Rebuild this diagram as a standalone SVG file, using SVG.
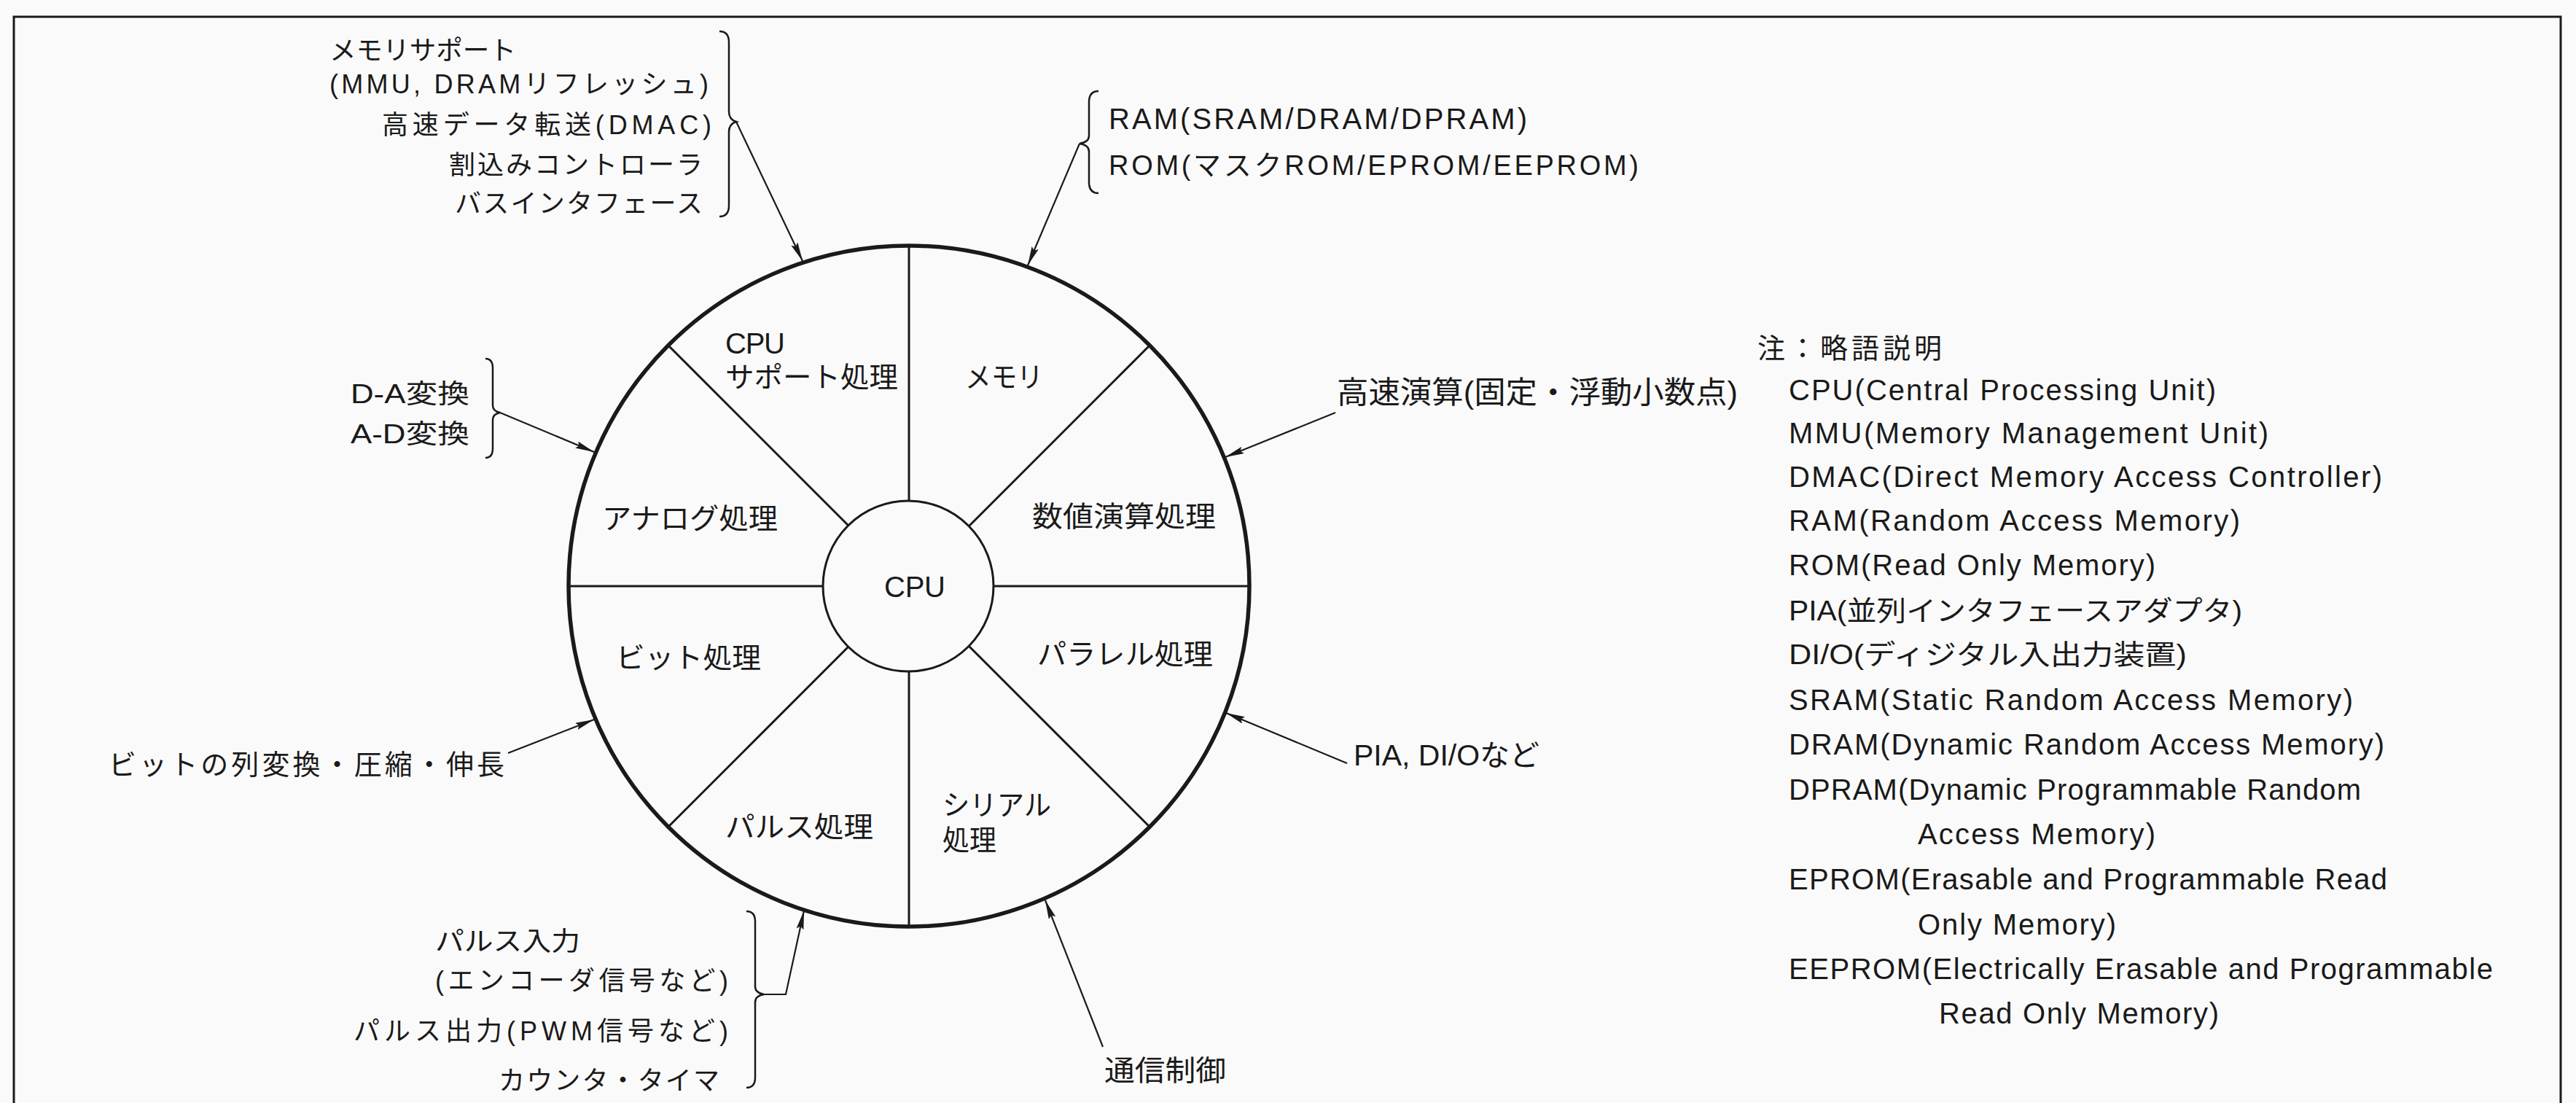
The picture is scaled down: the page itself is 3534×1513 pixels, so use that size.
<svg xmlns="http://www.w3.org/2000/svg" width="3534" height="1513" viewBox="0 0 3534 1513">
<style>
text{font-family:"Liberation Sans Narrow","Liberation Sans","Noto Sans CJK JP",sans-serif;fill:#1a1a1a}
.s36{font-size:36px}.s38{font-size:38px}.s39{font-size:39px}.s40{font-size:40px}.s42{font-size:42px}
.ln{fill:none;stroke:#1a1a1a;stroke-width:3}
.thick{fill:none;stroke:#1a1a1a;stroke-width:5.5}
.arr{fill:none;stroke:#1a1a1a;stroke-width:2.2}
.br{fill:none;stroke:#1a1a1a;stroke-width:2.5}
</style>
<defs>
<marker id="ah" markerUnits="userSpaceOnUse" markerWidth="30" markerHeight="12" refX="26" refY="5" orient="auto">
<path d="M0,0 L26,5 L0,10 L4,5 z" fill="#1a1a1a"/>
</marker>
</defs>
<rect width="3534" height="1513" fill="#fafafa"/>
<path class="ln" d="M19,1513 L19,23 L3513,23 L3513,1513"/>

<g id="wheel">
<circle class="thick" cx="1247" cy="804" r="467"/>
<circle class="ln" cx="1246" cy="804" r="117" stroke-width="4"/>
<path class="ln" d="M780,804 L1129,804 M1363,804 L1714,804 M1247,337 L1247,687 M1247,921 L1247,1271 M917,474 L1164,721 M1577,474 L1330,721 M917,1134 L1164,887 M1577,1134 L1330,887"/>
</g>

<g id="seg-cpu-support"><text class="s40" x="995" y="485" textLength="82" lengthAdjust="spacing">CPU</text><text class="s39" x="995" y="531" textLength="237" lengthAdjust="spacingAndGlyphs">サポート処理</text></g>
<g id="seg-memory"><text class="s39" x="1324" y="531" textLength="107" lengthAdjust="spacingAndGlyphs">メモリ</text></g>
<g id="seg-analog"><text class="s39" x="826" y="725" textLength="241" lengthAdjust="spacingAndGlyphs">アナログ処理</text></g>
<g id="seg-numeric"><text class="s39" x="1416" y="722" textLength="252" lengthAdjust="spacingAndGlyphs">数値演算処理</text></g>
<g id="seg-cpu"><text class="s40" x="1213" y="819" textLength="84" lengthAdjust="spacing">CPU</text></g>
<g id="seg-bit"><text class="s39" x="845" y="916" textLength="199" lengthAdjust="spacingAndGlyphs">ビット処理</text></g>
<g id="seg-parallel"><text class="s39" x="1423" y="911" textLength="241" lengthAdjust="spacingAndGlyphs">パラレル処理</text></g>
<g id="seg-serial"><text class="s39" x="1293" y="1118" textLength="149" lengthAdjust="spacingAndGlyphs">シリアル</text><text class="s39" x="1293" y="1166" textLength="74" lengthAdjust="spacingAndGlyphs">処理</text></g>
<g id="seg-pulse"><text class="s39" x="995" y="1148" textLength="203" lengthAdjust="spacingAndGlyphs">パルス処理</text></g>

<g id="lbl-cpu-support">
<text class="s36" x="452" y="82" textLength="256" lengthAdjust="spacingAndGlyphs">メモリサポート</text>
<text class="s36" x="452" y="128" textLength="520" lengthAdjust="spacing">(MMU, DRAMリフレッシュ)</text>
<text class="s36" x="524" y="184" textLength="452" lengthAdjust="spacing">高速データ転送(DMAC)</text>
<text class="s36" x="616" y="239" textLength="348" lengthAdjust="spacing">割込みコントローラ</text>
<text class="s36" x="624" y="292" textLength="340" lengthAdjust="spacing">バスインタフェース</text>
<path class="br" d="M987,43 Q1000,43 1000,58 L1000,153 Q1000,164 1010,167 Q1000,170 1000,181 L1000,282 Q1000,297 987,297"/>
</g>

<g id="lbl-memory">
<text class="s40" x="1521" y="177" textLength="574" lengthAdjust="spacing">RAM(SRAM/DRAM/DPRAM)</text>
<text class="s38" x="1521" y="240" textLength="727" lengthAdjust="spacing">ROM(マスクROM/EPROM/EEPROM)</text>
<path class="br" d="M1507,125 Q1494,125 1494,140 L1494,186 Q1494,195 1481,197 Q1494,199 1494,208 L1494,250 Q1494,265 1507,265"/>
</g>

<g id="lbl-analog">
<text class="s36" x="481" y="553" textLength="163" lengthAdjust="spacingAndGlyphs">D-A変換</text>
<text class="s36" x="481" y="608" textLength="163" lengthAdjust="spacingAndGlyphs">A-D変換</text>
<path class="br" d="M666,492 Q676,492 676,505 L676,556 Q676,564 686,566 Q676,568 676,576 L676,615 Q676,628 666,628"/>
</g>

<g id="lbl-numeric"><text class="s42" x="1834" y="553" textLength="550" lengthAdjust="spacingAndGlyphs">高速演算(固定・浮動小数点)</text></g>
<g id="lbl-bit"><text class="s38" x="149" y="1062" textLength="543" lengthAdjust="spacing">ビットの列変換・圧縮・伸長</text></g>
<g id="lbl-parallel"><text class="s40" x="1857" y="1050" textLength="255" lengthAdjust="spacingAndGlyphs">PIA, DI/Oなど</text></g>
<g id="lbl-serial"><text class="s39" x="1515" y="1482" textLength="167" lengthAdjust="spacingAndGlyphs">通信制御</text></g>

<g id="lbl-pulse">
<text class="s36" x="597" y="1304" textLength="199" lengthAdjust="spacingAndGlyphs">パルス入力</text>
<text class="s36" x="597" y="1358" textLength="402" lengthAdjust="spacing">(エンコーダ信号など)</text>
<text class="s36" x="485" y="1427" textLength="514" lengthAdjust="spacing">パルス出力(PWM信号など)</text>
<text class="s36" x="684" y="1495" textLength="303" lengthAdjust="spacing">カウンタ・タイマ</text>
<path class="br" d="M1024,1250 Q1036,1250 1036,1264 L1036,1353 Q1036,1362 1048,1364 Q1036,1366 1036,1375 L1036,1478 Q1036,1492 1024,1492"/>
</g>

<g id="connectors">
<path class="arr" d="M1010,167 L1101,358" marker-end="url(#ah)"/>
<path class="arr" d="M1481,197 L1410,364" marker-end="url(#ah)"/>
<path class="arr" d="M1832,566 L1681,627" marker-end="url(#ah)"/>
<path class="arr" d="M686,566 L815,620" marker-end="url(#ah)"/>
<path class="arr" d="M697,1033 L815,987" marker-end="url(#ah)"/>
<path class="arr" d="M1048,1364 L1078,1364 L1103,1249" marker-end="url(#ah)"/>
<path class="arr" d="M1848,1047 L1682,978" marker-end="url(#ah)"/>
<path class="arr" d="M1513,1436 L1434,1235" marker-end="url(#ah)"/>
</g>

<g id="legend">
<text class="s38" x="2411" y="491" textLength="253" lengthAdjust="spacing">注：略語説明</text>
<text class="s40" x="2454" y="549" textLength="586" lengthAdjust="spacing">CPU(Central Processing Unit)</text>
<text class="s40" x="2454" y="608" textLength="658" lengthAdjust="spacing">MMU(Memory Management Unit)</text>
<text class="s40" x="2454" y="668" textLength="814" lengthAdjust="spacing">DMAC(Direct Memory Access Controller)</text>
<text class="s40" x="2454" y="728" textLength="619" lengthAdjust="spacing">RAM(Random Access Memory)</text>
<text class="s40" x="2454" y="789" textLength="503" lengthAdjust="spacing">ROM(Read Only Memory)</text>
<text class="s38" x="2454" y="851" textLength="622" lengthAdjust="spacingAndGlyphs">PIA(並列インタフェースアダプタ)</text>
<text class="s38" x="2454" y="911" textLength="546" lengthAdjust="spacingAndGlyphs">DI/O(ディジタル入出力装置)</text>
<text class="s40" x="2454" y="974" textLength="774" lengthAdjust="spacing">SRAM(Static Random Access Memory)</text>
<text class="s40" x="2454" y="1035" textLength="817" lengthAdjust="spacing">DRAM(Dynamic Random Access Memory)</text>
<text class="s40" x="2454" y="1097" textLength="785" lengthAdjust="spacing">DPRAM(Dynamic Programmable Random</text>
<text class="s40" x="2631" y="1158" textLength="326" lengthAdjust="spacing">Access Memory)</text>
<text class="s40" x="2454" y="1220" textLength="821" lengthAdjust="spacing">EPROM(Erasable and Programmable Read</text>
<text class="s40" x="2631" y="1282" textLength="272" lengthAdjust="spacing">Only Memory)</text>
<text class="s40" x="2454" y="1343" textLength="966" lengthAdjust="spacing">EEPROM(Electrically Erasable and Programmable</text>
<text class="s40" x="2660" y="1404" textLength="384" lengthAdjust="spacing">Read Only Memory)</text>
</g>
</svg>
